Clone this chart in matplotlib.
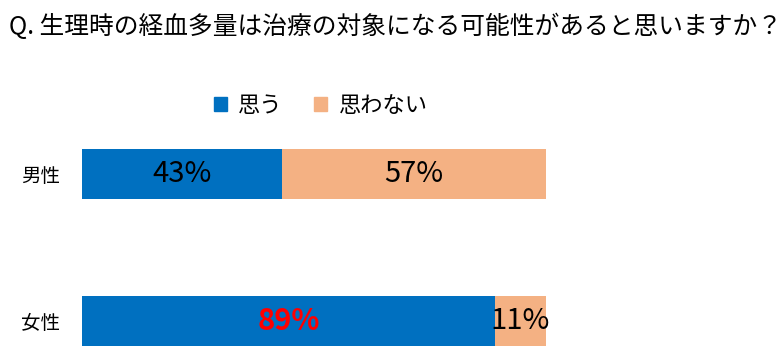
import matplotlib.pyplot as plt
from matplotlib.patches import Patch

plt.rcParams['font.family'] = ['Noto Sans CJK JP', 'DejaVu Sans']

# data
title = 'Q. 生理時の経血多量は治療の対象になる可能性があると思いますか？'
groups = ['男性', '女性']
series = ['思う', '思わない']
yes = [43, 89]
no = [57, 11]
colors = ['#0070C0', '#F4B183']

fig = plt.figure(figsize=(7.84, 3.6), dpi=100)
ax = fig.add_axes([0.1046, 0.006, 0.5918, 0.613])

ypos = list(range(len(groups)))
ax.barh(ypos, yes, height=0.34, color=colors[0])
ax.barh(ypos, no, left=yes, height=0.34, color=colors[1])

# labels in bars
for i in ypos:
    yc = 'red' if i == 1 else 'black'
    yw = 'bold' if i == 1 else 'normal'
    ax.text(yes[i] / 2, i, f'{yes[i]}%', ha='center', va='center',
            fontsize=21, color=yc, fontweight=yw)
    ax.text(yes[i] + no[i] / 2, i, f'{no[i]}%', ha='center', va='center',
            fontsize=21, color='black')

ax.set_xlim(0, 100)
ax.set_ylim(1.25, -0.25)
ax.set_yticks(ypos)
ax.set_yticklabels(groups, fontsize=14)
ax.tick_params(axis='y', length=0, pad=16)
ax.set_xticks([])
for s in ax.spines.values():
    s.set_visible(False)

fig.text(0.012, 0.925, title, fontsize=17.8, va='center', ha='left')

handles = [Patch(color=c, label=l) for c, l in zip(colors, series)]
fig.legend(handles=handles, loc='center', bbox_to_anchor=(0.409, 0.708),
           ncol=2, frameon=False, fontsize=16, handlelength=0.6,
           handleheight=0.6, handletextpad=0.5, columnspacing=1.4)

fig.savefig('out.png', dpi=100)
